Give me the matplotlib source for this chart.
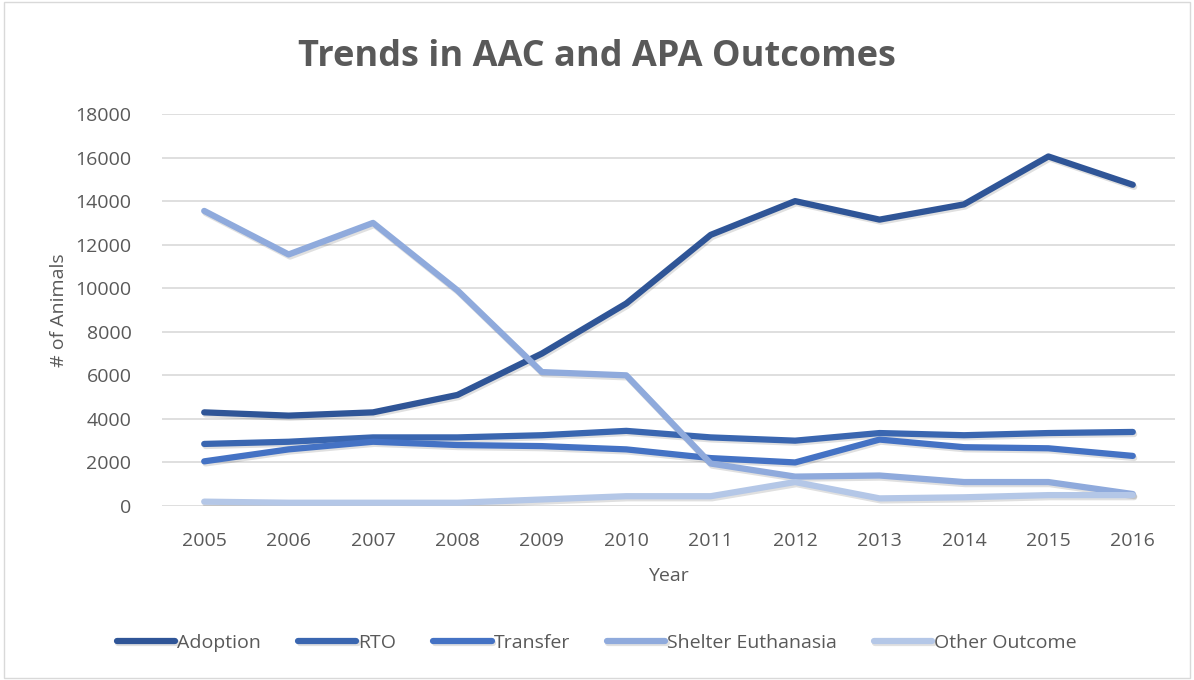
import matplotlib
matplotlib.use("Agg")
import matplotlib.pyplot as plt
import matplotlib.patheffects as pe
import numpy as np

years = [2005, 2006, 2007, 2008, 2009, 2010, 2011, 2012, 2013, 2014, 2015, 2016]
adoption = [4300, 4150, 4300, 5100, 7000, 9300, 12450, 14000, 13150, 13850, 16050, 14750]
rto = [2850, 2950, 3150, 3150, 3250, 3450, 3150, 3000, 3350, 3250, 3350, 3400]
transfer = [2050, 2600, 2950, 2800, 2750, 2600, 2200, 2000, 3050, 2700, 2650, 2300]
euthanasia = [13550, 11550, 13000, 9900, 6150, 6000, 1950, 1350, 1400, 1100, 1100, 550]
other = [200, 150, 150, 150, 300, 450, 450, 1100, 350, 400, 500, 500]

series = [
    ("Adoption", adoption, "#2F5597"),
    ("RTO", rto, "#3A66B0"),
    ("Transfer", transfer, "#4472C4"),
    ("Shelter Euthanasia", euthanasia, "#8FAADC"),
    ("Other Outcome", other, "#B4C7E7"),
]

plt.rcParams['font.family'] = ['Open Sans', 'DejaVu Sans']
text_color = "#595959"

fig = plt.figure(figsize=(11.94, 6.8), dpi=100)
ax = fig.add_axes([162/1194, 1 - 506/680, (1175-162)/1194, (506-114)/680])

x = np.arange(len(years))
for name, vals, col in series:
    ax.plot(x, vals, color=col, lw=4.5, label=name, solid_capstyle='round',
            path_effects=[pe.SimpleLineShadow(offset=(1, -1.5), alpha=0.12, shadow_color='k'), pe.Normal()])

ax.set_ylim(0, 18000)
ax.set_xlim(-0.5, len(years) - 0.5)
ax.set_yticks(range(0, 18001, 2000))
ax.set_xticks(x)
ax.set_xticklabels([str(y) for y in years])
ax.tick_params(axis='both', length=0, labelsize=14, colors=text_color)
ax.tick_params(axis='y', pad=22)
ax.tick_params(axis='x', pad=19)
ax.grid(axis='y', color='#D9D9D9', lw=1.2)
ax.set_axisbelow(True)
for s in ax.spines.values():
    s.set_visible(False)

ax.set_xlabel("Year", fontsize=14, color=text_color, labelpad=12)
ax.set_ylabel("# of Animals", fontsize=14, color=text_color, labelpad=5)

fig.text(0.5, 1 - 57/680, "Trends in AAC and APA Outcomes", ha='center', va='center',
         fontsize=26, fontweight='bold', color=text_color)

leg = fig.legend(loc='center', bbox_to_anchor=(0.5, 1 - 643/680), ncol=5, frameon=False,
                 fontsize=14, handlelength=3, handletextpad=0.1, columnspacing=1.9)
for t in leg.get_texts():
    t.set_color(text_color)

border = plt.Rectangle((0.003, 0.003), 0.994, 0.994, transform=fig.transFigure,
                       fill=False, edgecolor='#D9D9D9', lw=1)
fig.add_artist(border)

fig.savefig("out.png", dpi=100)
